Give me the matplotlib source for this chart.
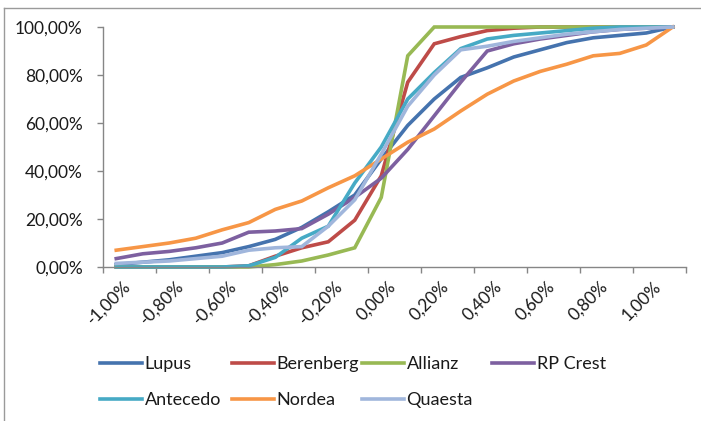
import matplotlib
matplotlib.use("Agg")
import matplotlib.pyplot as plt
import matplotlib.transforms as mtransforms
from matplotlib.lines import Line2D
from matplotlib.legend import Legend
from matplotlib.ticker import FixedLocator, FuncFormatter

plt.rcParams['font.family'] = ['Lato', 'DejaVu Sans']

# Return buckets (x categories)
categories = ["-1,00%", "-0,90%", "-0,80%", "-0,70%", "-0,60%", "-0,50%",
              "-0,40%", "-0,30%", "-0,20%", "-0,10%", "0,00%", "0,10%",
              "0,20%", "0,30%", "0,40%", "0,50%", "0,60%", "0,70%",
              "0,80%", "0,90%", "1,00%", "1,10%"]

# Cumulative share per bucket, in percent
lupus = [1, 2, 3, 4.5, 6, 8.5, 11.5, 16.5, 23, 30, 45, 59, 70, 79, 83, 87.5,
         90.5, 93.5, 95.5, 96.5, 97.5, 100]
berenberg = [0, 0, 0, 0, 0, 0.5, 4.5, 8, 10.5, 19.5, 38, 77, 93, 96, 98.5,
             99.5, 100, 100, 100, 100, 100, 100]
allianz = [0, 0, 0, 0, 0, 0, 1, 2.5, 5, 8, 29, 88, 100, 100, 100, 100, 100,
           100, 100, 100, 100, 100]
rp_crest = [3.5, 5.5, 6.5, 8, 10, 14.5, 15, 16, 22, 29, 37, 49, 63, 77, 90,
            93, 95, 96.5, 98, 99, 99.5, 100]
antecedo = [0, 0, 0, 0, 0, 0.5, 4, 12, 17, 35, 50, 70, 81, 91, 95, 96.5,
            97.5, 98.5, 99.5, 100, 100, 100]
nordea = [7, 8.5, 10, 12, 15.5, 18.5, 24, 27.5, 33, 38, 45, 52, 57.5, 65, 72,
          77.5, 81.5, 84.5, 88, 89, 92.5, 100]
quaesta = [1.5, 2, 2.5, 3.5, 4.5, 7, 8, 8.5, 17, 28, 47, 67, 80, 90.5, 92, 94,
           95.5, 97, 98, 99, 99.5, 100]

series_names = ["Lupus", "Berenberg", "Allianz", "RP Crest",
                "Antecedo", "Nordea", "Quaesta"]
series_values = [lupus, berenberg, allianz, rp_crest, antecedo, nordea, quaesta]
series_colors = ["#4573AE", "#BE4B48", "#98B954", "#7D60A0",
                 "#46AAC5", "#F79646", "#A0B6DC"]

W, H = 701, 421
fig = plt.figure(figsize=(W / 100, H / 100), dpi=100)
ax = fig.add_axes([103 / W, 1 - 267 / H, (686 - 103) / W, (267 - 27) / H])

x = list(range(len(categories)))
handles = []
for name, vals, col in zip(series_names, series_values, series_colors):
    (ln,) = ax.plot(x, [v / 100 for v in vals], color=col, lw=2.6,
                    solid_joinstyle='miter', label=name, clip_on=False)
    handles.append(ln)

ax.set_xlim(-0.5, len(categories) - 0.5)
ax.set_ylim(0, 1)

axis_grey = "#868686"
text_col = "#1a1a1a"
for s in ("top", "right"):
    ax.spines[s].set_visible(False)
for s in ("left", "bottom"):
    ax.spines[s].set_color(axis_grey)
    ax.spines[s].set_linewidth(1.0)

# y axis
ax.yaxis.set_major_locator(FixedLocator([0, 0.2, 0.4, 0.6, 0.8, 1.0]))
ax.yaxis.set_major_formatter(FuncFormatter(
    lambda v, p: f"{v * 100:.2f}%".replace(".", ",")))
ax.tick_params(axis="y", direction="out", length=4.5, width=1.0,
               color=axis_grey, labelsize=12.5, labelcolor=text_col, pad=10)

# x axis: tick marks between every second category, labels on categories
ax.xaxis.set_major_locator(FixedLocator([i - 0.5 for i in range(0, len(categories) + 1, 2)]))
ax.xaxis.set_major_formatter(FuncFormatter(lambda v, p: ""))
ax.xaxis.set_minor_locator(FixedLocator(list(range(0, len(categories) - 1, 2))))
ax.xaxis.set_minor_formatter(FuncFormatter(lambda v, p: categories[int(round(v))]))
ax.tick_params(axis="x", which="major", direction="out", length=4.5, width=1.0,
               color=axis_grey)
ax.tick_params(axis="x", which="minor", length=0, labelsize=12.5,
               labelcolor=text_col, pad=8)

# rotated labels end at their category position
offset = mtransforms.ScaledTranslation(6 / 100, 0, fig.dpi_scale_trans)
for lab in ax.xaxis.get_minorticklabels():
    lab.set_rotation(45)
    lab.set_ha("right")
    lab.set_va("top")
    lab.set_rotation_mode("anchor")
    lab.set_transform(lab.get_transform() + offset)

# legend laid out on a uniform grid
legend_cols = [100, 232, 362, 492]
legend_rows = [364, 400]
for k, h in enumerate(handles):
    r, c = divmod(k, 4)
    leg = Legend(fig, [h], [h.get_label()], loc="center left",
                 bbox_to_anchor=(legend_cols[c] / W, 1 - legend_rows[r] / H),
                 bbox_transform=fig.transFigure, frameon=False,
                 borderpad=0, borderaxespad=0, handlelength=2.35,
                 handletextpad=0.12, fontsize=13, labelcolor=text_col)
    fig.add_artist(leg)

# chart-area border
border = "#9a9a9a"
fig.add_artist(Line2D([3.5 / W, 1], [1 - 7.5 / H, 1 - 7.5 / H],
                      transform=fig.transFigure, color=border, lw=1))
fig.add_artist(Line2D([3.5 / W, 3.5 / W], [0, 1 - 7.5 / H],
                      transform=fig.transFigure, color=border, lw=1))

fig.savefig("out.png", dpi=100, facecolor="white")
